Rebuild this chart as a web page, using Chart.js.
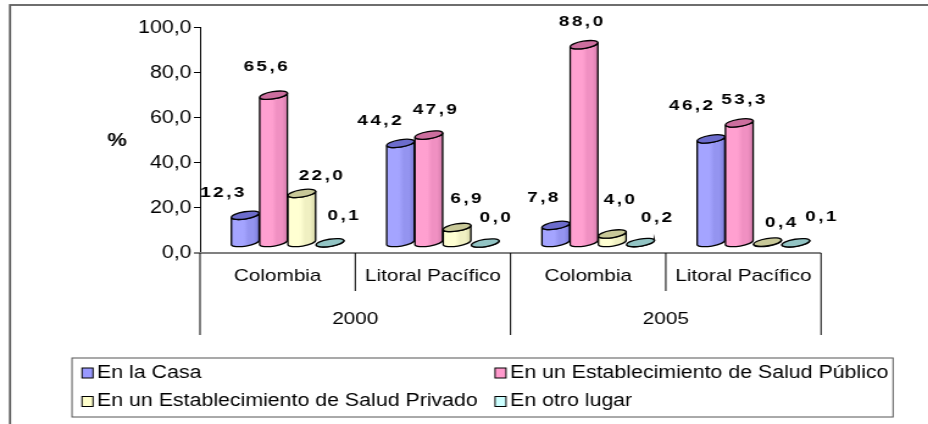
<!DOCTYPE html>
<html>
<head>
<meta charset="utf-8">
<script src="https://cdn.jsdelivr.net/npm/chart.js@4/dist/chart.umd.min.js"></script>
<style>
  html, body { margin: 0; padding: 0; background: #fff; overflow: hidden; }
  /* the reference is stretched horizontally, so the canvas is too */
  #wrap { width: 761px; height: 424px; transform: scaleX(1.2195); transform-origin: 0 0; }
</style>
</head>
<body>
<div id="wrap"><canvas id="chart"></canvas></div>
<script>
const regions = ['Colombia', 'Litoral Pacífico', 'Colombia', 'Litoral Pacífico'];
const years = ['2000', '2005'];
const seriesNames = [
    'En la Casa',
    'En un Establecimiento de Salud Público',
    'En un Establecimiento de Salud Privado',
    'En otro lugar'
];
const enLaCasa = [12.3, 44.2, 7.8, 46.2];
const saludPublico = [65.6, 47.9, 88.0, 53.3];
const saludPrivado = [22.0, 6.9, 4.0, 0.4];
const otroLugar = [0.1, 0.0, 0.2, 0.1];
const yTicks = [0, 20, 40, 60, 80, 100];

const SX = 928 / 761;
const rx = v => v / SX; // reference pixels -> canvas pixels

const FONT = "'Liberation Sans', Arial, sans-serif";
Chart.defaults.font.family = FONT;
Chart.defaults.color = '#000';

// legend swatch colours + cylinder shading
const swatch = ['#9999FF', '#FF99CC', '#FFFFCC', '#CCFFFF'];
const shade = [
    { light: '#A4A4FF', mid: '#9494F0', dark: '#7A7AD8', top: '#6C6CCC' },
    { light: '#FFA0D0', mid: '#F090C2', dark: '#D27BAA', top: '#CC6E9E' },
    { light: '#FFFFD2', mid: '#F0F0C2', dark: '#D6D6A6', top: '#C8C898' },
    { light: '#CCFFFF', mid: '#B8E8E8', dark: '#99CCCC', top: '#92C4C4' }
];
// Excel's 3-D label placement, offsets from each cylinder top (reference px)
const labelDx = [
    [-23, -21, -13, -20],
    [-8, 6, -3, 4],
    [19, 9, 7, 13],
    [13, 10, 16, 25]
];
const labelDy = [
    [-23, -23, -28, -33],
    [-28, -25, -23, -23],
    [-18, -29, -34, -19],
    [-27, -25, -25, -26]
];
const depth = { dx: rx(10), dy: -10 };

function fmt(v) {
    return v.toFixed(1).replace('.', ',');
}

function cylinder(ctx, cx, top, base, w, st) {
    const a = w / 2, b = 3.6, rot = -0.2;
    const c = Math.cos(rot), s = Math.sin(rot);

    const grad = ctx.createLinearGradient(cx - a, 0, cx + a, 0);
    grad.addColorStop(0, st.light);
    grad.addColorStop(0.45, st.light);
    grad.addColorStop(0.62, st.mid);
    grad.addColorStop(0.8, st.mid);
    grad.addColorStop(1, st.dark);

    ctx.beginPath();
    ctx.moveTo(cx - a * c, top - a * s);
    ctx.lineTo(cx - a * c, base - a * s);
    ctx.ellipse(cx, base, a, b, rot, Math.PI, 0, true);
    ctx.lineTo(cx + a * c, top + a * s);
    ctx.ellipse(cx, top, a, b, rot, 0, Math.PI, false);
    ctx.closePath();
    ctx.fillStyle = grad;
    ctx.fill();
    ctx.stroke();

    ctx.beginPath();
    ctx.ellipse(cx, top, a, b, rot, 0, Math.PI * 2);
    ctx.fillStyle = st.top;
    ctx.fill();
    ctx.stroke();
}

const cylinders = {
    id: 'cylinders',
    beforeDatasetsDraw(chart) {
        const ctx = chart.ctx;
        ctx.save();
        ctx.strokeStyle = '#000';
        ctx.lineWidth = 1.3;
        const metas = chart.data.datasets.map((d, i) => chart.getDatasetMeta(i));
        for (let j = 0; j < regions.length; j++) {
            metas.forEach((meta, i) => {
                const bar = meta.data[j];
                cylinder(ctx, bar.x + depth.dx, bar.y + depth.dy, bar.base + depth.dy, bar.width, shade[i]);
            });
        }
        // value labels
        ctx.font = `bold 15.5px ${FONT}`;
        ctx.letterSpacing = '2px';
        ctx.fillStyle = '#000';
        ctx.textAlign = 'center';
        ctx.textBaseline = 'middle';
        metas.forEach((meta, i) => {
            meta.data.forEach((bar, j) => {
                const v = chart.data.datasets[i].data[j];
                ctx.fillText(fmt(v), bar.x + depth.dx + rx(labelDx[i][j]) + 1, bar.y + depth.dy + labelDy[i][j]);
            });
        });
        ctx.restore();
        return false;
    }
};

const decorations = {
    id: 'decorations',
    afterDraw(chart) {
        const ctx = chart.ctx;
        const xs = chart.scales.x;
        const area = chart.chartArea;
        const step = xs.width / regions.length;
        ctx.save();

        // outer frame
        ctx.strokeStyle = '#5f5f5f';
        ctx.lineWidth = 1.8;
        ctx.strokeRect(rx(10), 5, 2000, 2000);

        // category axis line
        ctx.strokeStyle = '#808080';
        ctx.lineWidth = 2;
        ctx.beginPath();
        ctx.moveTo(xs.left - 5, area.bottom);
        ctx.lineTo(xs.right, area.bottom);
        ctx.stroke();

        // group dividers
        ctx.strokeStyle = '#000';
        ctx.lineWidth = 1;
        for (let i = 0; i <= regions.length; i++) {
            const x = xs.left + i * step;
            const len = i % 2 === 0 ? 82 : 38;
            ctx.beginPath();
            ctx.moveTo(x, area.bottom);
            ctx.lineTo(x, area.bottom + len);
            ctx.stroke();
        }

        ctx.fillStyle = '#000';
        ctx.textAlign = 'center';
        ctx.textBaseline = 'middle';
        ctx.font = `17px ${FONT}`;
        regions.forEach((r, i) => ctx.fillText(r, xs.getPixelForValue(i), 276));
        years.forEach((y, k) => {
            const x = (xs.getPixelForValue(2 * k) + xs.getPixelForValue(2 * k + 1)) / 2;
            ctx.fillText(y, x, 319);
        });

        // axis title
        ctx.font = `bold 18px ${FONT}`;
        ctx.fillText('%', rx(117), 141);

        // legend
        const box = { left: rx(72), top: 358, right: rx(893), bottom: 417 };
        ctx.strokeStyle = '#555';
        ctx.lineWidth = 1;
        ctx.strokeRect(box.left, box.top, box.right - box.left, box.bottom - box.top);
        const cols = [rx(82), rx(495)];
        const rows = [373, 401.5];
        ctx.font = `17.5px ${FONT}`;
        ctx.textAlign = 'left';
        seriesNames.forEach((name, i) => {
            const x = cols[i % 2], y = rows[Math.floor(i / 2)];
            ctx.fillStyle = swatch[i];
            ctx.fillRect(x, y - 5, rx(11), 10);
            ctx.strokeStyle = '#000';
            ctx.strokeRect(x, y - 5, rx(11), 10);
            ctx.fillStyle = '#000';
            ctx.fillText(name, x + rx(15), y);
        });
        ctx.restore();
    }
};

new Chart(document.getElementById('chart'), {
    type: 'bar',
    data: {
        labels: regions,
        datasets: [
            { label: seriesNames[0], data: enLaCasa, backgroundColor: swatch[0] },
            { label: seriesNames[1], data: saludPublico, backgroundColor: swatch[1] },
            { label: seriesNames[2], data: saludPrivado, backgroundColor: swatch[2] },
            { label: seriesNames[3], data: otroLugar, backgroundColor: swatch[3] }
        ]
    },
    options: {
        responsive: true,
        maintainAspectRatio: false,
        animation: false,
        datasets: { bar: { categoryPercentage: 0.728, barPercentage: 1 } },
        layout: { padding: { left: 0, top: 27.7, right: 761 - rx(821), bottom: 424 - 253 } },
        plugins: { legend: { display: false }, tooltip: { enabled: false } },
        scales: {
            x: { display: false },
            y: {
                min: 0,
                max: 100,
                afterBuildTicks: scale => { scale.ticks = yTicks.map(v => ({ value: v })); },
                afterFit: scale => { scale.width = rx(200); },
                ticks: { font: { size: 17.5 }, color: '#000', padding: 2, callback: v => fmt(v) },
                grid: { drawOnChartArea: false, drawTicks: true, tickLength: 5, color: '#000' },
                border: { display: true, color: '#000', width: 1 }
            }
        }
    },
    plugins: [cylinders, decorations]
});
</script>
</body>
</html>
